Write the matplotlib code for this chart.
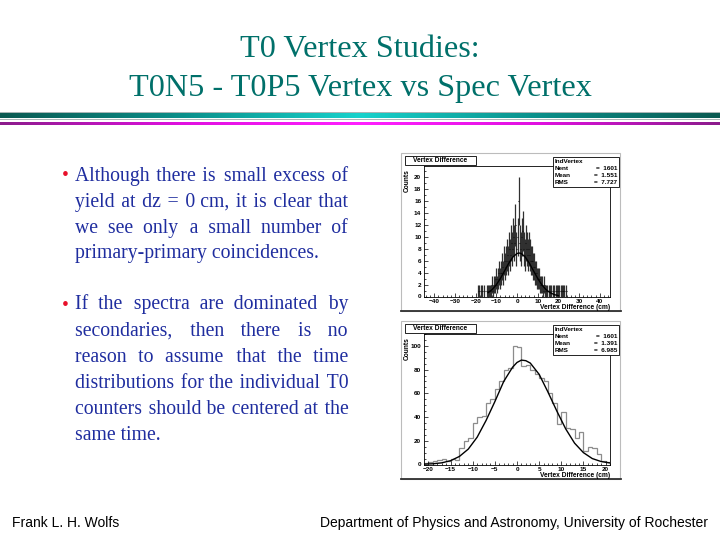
import numpy as np
import matplotlib
matplotlib.use('Agg')
import matplotlib.pyplot as plt
from matplotlib.patches import Rectangle
from matplotlib.lines import Line2D
from matplotlib.colors import LinearSegmentedColormap

W, H = 720, 540

# slide text
title_lines = ["T0 Vertex Studies:", "T0N5 - T0P5 Vertex vs Spec Vertex"]
bullet1 = ["Although there is small excess of",
           "yield at dz = 0 cm, it is clear that",
           "we see only a small number of",
           "primary-primary coincidences."]
bullet2 = ["If the spectra are dominated by",
           "secondaries, then there is no",
           "reason to assume that the time",
           "distributions for the individual T0",
           "counters should be centered at the",
           "same time."]
footer_left = "Frank L. H. Wolfs"
footer_right = "Department of Physics and Astronomy, University of Rochester"

# top histogram (0.5 cm steps starting at -20 cm)
top_lo = -20.0
top_width = 0.5
top_counts = [0, 0, 1, 1, 0, 1, 1, 0, 1, 0,
              1, 1, 1, 1, 1, 2, 1, 2, 2, 3,
              2, 3, 4, 3, 4, 5, 4, 6, 5, 6,
              7, 6, 8, 7, 9, 8, 10, 9, 12, 8,
              10, 16, 9, 8, 10, 11, 8, 7, 9, 8,
              7, 8, 7, 6, 6, 5, 5, 4, 4, 3,
              3, 3, 2, 2, 2, 1, 2, 1, 1, 1,
              1, 1, 1, 0, 1, 1, 0, 1, 1, 1,
              1, 0, 1, 1, 1, 1, 0, 1, 0, 0]
top_fit_x = [-14, -12, -10, -8, -6, -4, -2, 0, 1, 2, 4, 6, 8, 10, 12, 14, 16, 18, 20]
top_fit_y = [0.64, 1.17, 1.97, 3.05, 4.3, 5.57, 6.62, 7.22, 7.3, 7.22,
             6.62, 5.57, 4.3, 3.05, 1.97, 1.17, 0.64, 0.32, 0.15]
top_stats = [("Nent", "1601"), ("Mean", "1.551"), ("RMS", "7.727")]

# bottom histogram (1 cm bins from -21 cm to 21 cm)
bot_lo = -21.0
bot_width = 1.0
bot_counts = [1, 2, 3, 4, 5, 3, 5, 4, 14, 20,
              22, 35, 40, 41, 52, 55, 64, 70, 80, 81,
              100, 99, 83, 84, 80, 76, 73, 70, 60, 52,
              34, 44, 31, 30, 22, 27, 11, 15, 14, 9,
              3, 2]
bot_fit_x = [-21, -19, -17, -15, -13, -11, -9, -7, -5, -3, -1, 0, 1, 2, 3,
             5, 7, 9, 11, 13, 15, 17, 19, 21]
bot_fit_y = [0.3, 0.6, 1.4, 3.2, 6.8, 13, 23, 37, 53, 70, 82, 86, 88, 87.5, 85.5,
             76, 61, 45, 30, 18, 10, 5, 2.5, 1.3]
bot_stats = [("Nent", "1601"), ("Mean", "1.391"), ("RMS", "6.985")]

serif = ['Liberation Serif', 'DejaVu Serif']
sans = ['Liberation Sans', 'DejaVu Sans']
teal = '#00706a'
blue = '#1f2d9f'

fig = plt.figure(figsize=(7.2, 5.4), dpi=100)
rend = fig.canvas.get_renderer()


def fx(x):
    return x / W


def fy(y):
    return 1 - y / H


# title
fig.text(0.5, fy(57), title_lines[0], ha='center', va='baseline',
         fontsize=23.2, color=teal, family=serif)
fig.text(0.5, fy(96), title_lines[1], ha='center', va='baseline',
         fontsize=23.2, color=teal, family=serif)


# colour bars under the title
def band(y0, y1, colors):
    ax = fig.add_axes([0, fy(y1), 1, (y1 - y0) / H])
    cmap = LinearSegmentedColormap.from_list('band', colors)
    ax.imshow(np.linspace(0, 1, 400)[None, :], cmap=cmap, aspect='auto',
              extent=[0, 1, 0, 1])
    ax.set_axis_off()


band(113, 118.5, ['#0a5a52', '#0a8f8a', '#18d2cc', '#0a8f8a', '#0a5a52'])
band(121.5, 124.5, ['#8c1c8c', '#e010e0', '#ff20ff', '#e010e0', '#8c1c8c'])
for yy in (112.3, 119.2):
    fig.add_artist(Line2D([0, 1], [fy(yy), fy(yy)], color='#a8b4b4', lw=0.7))

# bullet text, justified by padding the gaps with hair spaces
txt_kw = dict(fontsize=14.2, color=blue, family=serif, va='baseline', ha='left')
HAIR = u'\u200a'


def text_width(s):
    t = fig.text(0, 0, s, **txt_kw)
    w = t.get_window_extent(rend).width
    t.remove()
    return w


hair_w = (text_width('x' + HAIR * 20 + 'x') - text_width('xx')) / 20.0


def put_line(line, y, justify, x0=75, x1=348):
    if justify:
        words = line.split(' ')
        extra = (x1 - x0 - text_width(line)) / (len(words) - 1)
        out, carry = words[0], 0.0
        for w in words[1:]:
            carry += extra / hair_w
            n = int(round(carry))
            carry -= n
            out += ' ' + HAIR * max(n, 0) + w
        line = out
    fig.text(fx(x0), fy(y), line, **txt_kw)


for lines, y0 in ((bullet1, 180.5), (bullet2, 309.5)):
    fig.text(fx(62), fy(y0), u'\u2022', fontsize=14, color='#e8102a',
             family=serif, va='baseline', ha='left')
    for i, line in enumerate(lines):
        put_line(line, y0 + 26 * i, i < len(lines) - 1)

# footer
fig.text(fx(12), fy(527), footer_left, fontsize=10, family=sans, va='baseline')
fig.text(fx(708), fy(527), footer_right, fontsize=10, family=sans,
         va='baseline', ha='right')


# ROOT style histogram panels
def panel(dy, xlim, ylim, xmaj, xmin, ymaj, ymin, stats):
    fig.add_artist(Rectangle((fx(401), fy(311 + dy)), 219 / W, 158 / H,
                             transform=fig.transFigure, fill=False,
                             ec='#bcbcbc', lw=0.8))
    fig.add_artist(Line2D([fx(401), fx(621)], [fy(311 + dy), fy(311 + dy)],
                          color='#303030', lw=1.3))
    ax = fig.add_axes([fx(424), fy(296.5 + dy), 186 / W, 130.5 / H])
    ax.set_xlim(*xlim)
    ax.set_ylim(*ylim)
    ax.set_xticks(np.arange(xmaj[0], xmaj[1] + 0.01, xmaj[2]))
    ax.set_xticks(np.arange(xmin[0], xmin[1] + 0.01, xmin[2]), minor=True)
    ax.set_yticks(np.arange(ymaj[0], ymaj[1] + 0.01, ymaj[2]))
    ax.set_yticks(np.arange(ymin[0], ymin[1] + 0.01, ymin[2]), minor=True)
    ax.tick_params(which='both', direction='in', labelsize=4.6, width=0.5,
                   top=False, right=False)
    ax.tick_params(which='major', length=3)
    ax.tick_params(which='minor', length=1.5)
    ax.tick_params(axis='x', pad=1.5)
    ax.tick_params(axis='y', pad=2)
    for lab in ax.get_xticklabels() + ax.get_yticklabels():
        lab.set_fontweight('bold')
        lab.set_family(sans)
    for s in ax.spines.values():
        s.set_linewidth(0.6)

    # title box
    fig.add_artist(Rectangle((fx(405), fy(164.5 + dy)), 71 / W, 8.5 / H,
                             transform=fig.transFigure, fc='white', ec='black',
                             lw=0.6))
    fig.text(fx(440.5), fy(160.3 + dy), "Vertex Difference", ha='center',
             va='center', fontsize=4.8, fontweight='bold', family=sans)
    # stats box
    fig.add_artist(Rectangle((fx(553), fy(187 + dy)), 66 / W, 30 / H,
                             transform=fig.transFigure, fc='white', ec='black',
                             lw=0.6))
    fig.text(fx(555), fy(163 + dy), "IndVertex", fontsize=4.6,
             fontweight='bold', family=sans, va='baseline')
    for i, (name, val) in enumerate(stats):
        yb = fy(170 + 7 * i + dy)
        fig.text(fx(555), yb, name, fontsize=4.6, fontweight='bold',
                 family=sans, va='baseline')
        fig.text(fx(617), yb, "=  " + val, fontsize=4.6, fontweight='bold',
                 family=sans, va='baseline', ha='right')
    # axis titles
    fig.text(fx(407), fy(181 + dy), "Counts", rotation=90, ha='center',
             va='center', fontsize=4.8, fontweight='bold', family=sans)
    fig.text(fx(610), fy(309 + dy), "Vertex Difference (cm)", ha='right',
             va='baseline', fontsize=4.8, fontweight='bold', family=sans)
    return ax


# top: error bar histogram with fit
ax1 = panel(0, (-45, 45), (0, 21.9), (-40, 40, 10), (-44, 44, 2),
            (0, 20, 2), (0, 21, 1), top_stats)
tc = np.array(top_counts, dtype=float)
t_edges = top_lo + top_width * np.arange(len(tc) + 1)
t_mid = 0.5 * (t_edges[:-1] + t_edges[1:])
keep = tc > 0
ax1.vlines(t_mid[keep], tc[keep] - np.sqrt(tc[keep]), tc[keep] + np.sqrt(tc[keep]),
           color='#303030', lw=0.9)
ax1.hlines(tc[keep], t_edges[:-1][keep], t_edges[1:][keep], color='#101010', lw=0.8)
ax1.plot(top_fit_x, top_fit_y, color='black', lw=1.0)

# bottom: line histogram with fit
ax2 = panel(168, (-21, 21), (0, 110), (-20, 20, 5), (-21, 21, 1),
            (0, 100, 20), (0, 110, 5), bot_stats)
b_edges = bot_lo + bot_width * np.arange(len(bot_counts) + 1)
ax2.stairs(bot_counts, b_edges, color='#8c8c8c', lw=0.9)
ax2.plot(bot_fit_x, bot_fit_y, color='black', lw=1.0)

fig.savefig('out.png', dpi=100)
